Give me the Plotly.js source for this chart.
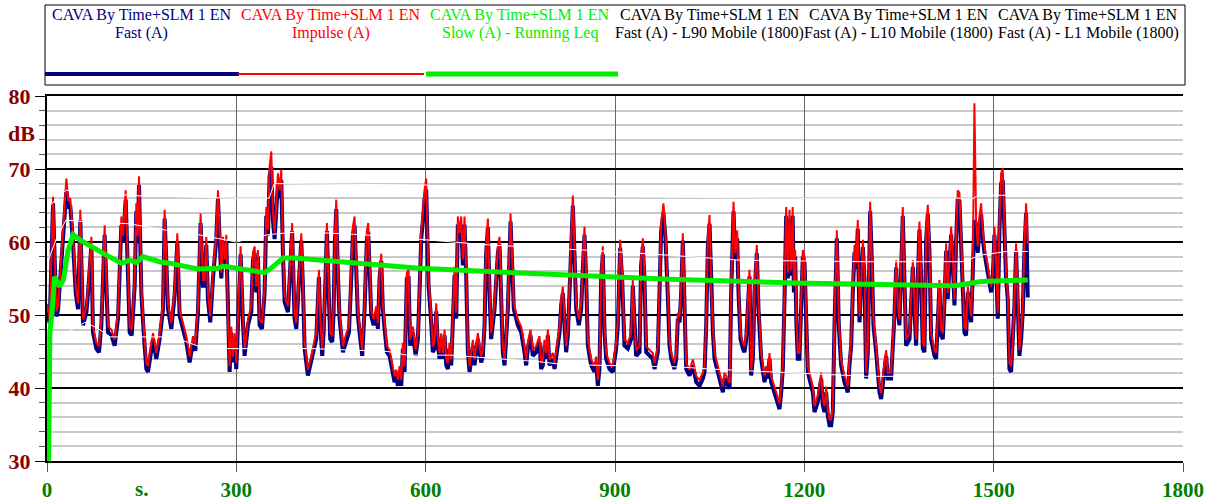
<!DOCTYPE html>
<html>
<head>
<meta charset="utf-8">
<script src="https://cdn.plot.ly/plotly-3.0.1.min.js"></script>
<style>
html,body{margin:0;padding:0;background:#fff;}
#chart{width:1213px;height:501px;}
</style>
</head>
<body>
<div id="chart"></div>
<script>
// ---- data ----
const time = [0,4.3,9.6,14.8,17.5,22.8,30.7,33.8,37,41.2,45.5,49.2,52.8,57.1,62.4,65,70.3,72.9,78.2,82.4,86.1,91.4,96.7,102,107.2,112.5,117.8,120.4,124.7,128.4,131,134.2,138.9,141.5,143.7,145.8,149.5,153.2,157.4,160,162.7,168,173.2,178.5,183.8,186.4,189,191.7,197,202.2,206.5,210.2,215.4,220.7,226,231.3,235,239.2,243.4,247.1,249.8,252.4,255,258.7,263,268.2,270.9,273.5,276.2,278.8,281.4,284.1,286.7,289.4,292,294.6,297.3,299.9,302.6,306.8,310.5,313.1,318.4,323.7,326.3,329,331.6,334.2,336.9,340.6,344.8,347.4,350.1,352.7,355.4,358,360.6,363.3,365.9,368.6,371.2,373.8,376.5,381.8,388.4,392.3,395,397.6,402.9,405.5,408.2,413.4,418.7,424,426.6,430.9,433,436.1,438.3,441.4,443.5,446.7,448.8,452,454.1,456.2,458.3,461,463.6,468.9,474.2,478.4,482.1,484.7,487.4,490,492.6,495.3,499.5,503.2,506.9,509,511.1,513.8,517.5,521.7,524.3,527,529.6,532.2,534.9,538.6,542.8,548.1,550.7,553.4,556,558.6,561.3,563.9,566.6,570.2,572.9,575.5,579.8,584,587.7,590.3,593,595.6,598.2,600.9,602.5,604.6,607.7,611.4,614.1,616.7,619.4,622,624.6,627.3,629.9,632.6,635.2,637.8,640.5,643.1,645.8,648.4,651,653.7,656.3,659,661.6,664.2,666.9,669.5,672.2,674.8,677.4,680.1,682.7,685.4,688,690.6,693.3,695.9,698.6,701.2,703.8,709.1,714.4,717,719.7,722.3,725,727.6,730.2,734.5,736.6,739.7,746.1,751.4,756.6,759.3,761.9,766.1,769.8,775.1,780.4,783,785.7,788.3,791,793.6,796.2,801.5,804.2,806.8,812.1,814.7,817.4,820,822.6,825.3,827.9,830.6,833.2,835.8,838.5,842.7,846.4,849,851.7,854.3,857,862.2,867.5,870.2,872.8,875.4,878.1,880.7,883.4,886,891.3,896.6,899.2,901.8,904.5,908.2,911.3,915,920.3,925.6,928.2,930.9,933.5,938.8,941.4,944.1,946.7,949.4,954.6,959.9,962.6,965.2,967.8,970.5,973.1,976.8,980,983.7,986.4,989.1,994.3,997,999.6,1002.3,1004.9,1007.5,1010.2,1012.8,1018.1,1023.4,1028.7,1034,1039.2,1041.9,1044.5,1047.1,1049.8,1052.4,1055.1,1057.7,1063,1068.3,1070.9,1073.5,1078.8,1081.5,1084.1,1087.8,1090.4,1093.6,1095.7,1098.9,1102.6,1105.2,1107.9,1110.5,1113.1,1115.8,1118.4,1121.1,1124.7,1127.4,1131.6,1136.9,1139.5,1142.2,1144.8,1147.5,1152.7,1158,1160.7,1163.3,1165.9,1168.6,1171.2,1173.9,1176.5,1179.1,1181.5,1183.5,1185.5,1187.5,1189.7,1192.3,1195,1197.6,1200.3,1202.9,1205.5,1210.8,1213.5,1216.1,1221.4,1226.7,1229.3,1231.9,1234.6,1237.2,1239.9,1242.5,1245.1,1247.8,1251.5,1254.6,1258.3,1263.6,1268.9,1271.5,1274.2,1276.8,1279.5,1282.1,1284.7,1287.4,1290,1292.7,1295.3,1297.9,1300.6,1304.3,1306.9,1309.5,1313.8,1319.1,1321.7,1324.3,1329.6,1332.3,1337.5,1342.8,1345.5,1348.1,1350.7,1356,1358.7,1361.3,1366.6,1371.9,1374.5,1377.1,1379.8,1382.4,1385.1,1387.7,1390.3,1393,1395.6,1398.3,1400.9,1406.2,1408.8,1411.5,1414.1,1416.7,1419.4,1422,1424.7,1427.3,1429.9,1432.6,1435.2,1437.9,1440.5,1443.1,1445.8,1448.4,1451.1,1453.7,1456.3,1459,1461.6,1464.3,1466.9,1469.5,1472.2,1474.8,1477.5,1480.1,1482.7,1485.4,1490.7,1496,1498.6,1501.2,1503.9,1506.5,1509.1,1511.8,1514.4,1517.1,1519.7,1522.3,1525,1527.6,1530.3,1532.9,1535.5,1538.2,1540.8,1543.5,1546.1,1548.7,1551.4,1554];

const impulseA = [51.5,49.5,66.2,50.5,51.2,58.5,68.7,65.6,66.0,60.8,54.0,51.6,64.4,49.4,51.2,53.8,60.7,48.4,46.2,45.7,49.4,62.3,48.4,48.0,46.6,50.3,63.5,60.8,67.1,56.2,48.4,48.0,54.8,65.3,60.8,69.0,53.9,48.4,43.4,43.0,44.8,47.5,44.8,47.5,51.6,64.4,58.5,51.6,48.9,53.5,61.2,50.7,48.9,47.1,44.3,47.1,45.9,51.2,63.9,54.8,54.8,60.7,53.0,49.8,55.8,61.2,67.1,60.8,55.8,60.7,57.6,61.0,49.4,43.0,48.4,44.3,47.5,43.4,49.4,59.4,49.8,45.2,49.4,51.2,58.5,59.4,53.9,58.9,49.4,48.9,53.9,64.8,61.7,70.3,72.4,64.0,61.2,66.2,69.4,67.1,69.9,59.4,52.6,51.2,62.6,50.3,48.9,53.0,61.2,54.8,46.2,42.5,44.3,46.6,47.5,56.2,49.4,45.2,48.4,56.2,62.6,53.0,47.5,47.1,51.2,60.8,65.8,56.2,50.3,45.7,47.5,48.4,55.8,62.1,63.5,55.8,50.7,48.4,45.2,51.6,61.6,62.6,55.8,50.7,49.4,51.2,48.9,55.8,58.4,51.6,48.9,45.7,45.2,43.0,41.6,42.5,41.1,43.0,41.1,46.2,43.0,55.8,56.2,46.6,48.4,45.2,47.5,53.9,61.6,63.9,67.1,68.7,60.8,54.8,51.2,45.7,46.2,51.6,46.6,44.8,47.5,44.8,48.0,43.9,43.4,46.2,43.9,49.4,56.6,50.3,63.5,61.2,63.5,57.6,63.5,56.2,45.7,43.0,44.8,46.6,43.9,46.2,47.5,45.7,44.3,45.2,49.4,59.4,63.2,53.9,47.5,51.6,59.4,60.7,53.9,45.7,43.9,48.4,51.6,63.9,57.6,51.6,49.4,48.4,45.7,43.9,46.2,48.0,45.2,45.7,47.1,43.4,43.9,46.6,44.8,48.0,43.9,44.8,43.4,45.2,48.4,52.1,53.9,49.4,45.7,48.0,53.9,59.4,66.4,59.4,51.6,49.4,51.6,57.1,62.1,55.8,46.6,43.9,43.0,44.3,41.1,43.4,55.8,59.4,48.4,44.8,43.4,43.0,44.8,46.2,49.4,60.3,55.8,46.6,46.2,47.5,54.8,48.4,45.2,45.7,57.6,60.5,55.8,45.7,45.2,44.8,43.4,44.8,45.7,53.9,62.6,65.3,61.2,53.4,46.6,44.8,43.4,44.8,50.3,49.8,53.9,61.2,52.1,43.4,42.5,43.9,41.6,41.1,42.1,43.0,49.4,60.3,63.7,53.9,48.4,44.8,43.0,41.1,40.2,42.1,41.1,40.7,53.9,65.5,58.5,61.6,53.9,47.5,46.2,45.7,47.5,51.6,56.2,42.5,44.8,53.9,59.6,51.6,44.8,41.6,43.0,42.1,44.8,41.6,40.2,38.9,37.9,40.2,43.4,53.0,64.8,55.8,64.4,56.2,64.8,53.9,58.9,49.4,44.8,44.8,51.6,58.9,58.0,49.4,43.0,41.1,40.2,37.5,38.9,42.1,38.4,37.5,40.2,37.0,35.7,35.7,37.5,49.4,61.6,49.4,43.9,41.6,40.2,43.9,46.6,53.9,59.6,57.1,63.0,49.8,53.9,60.3,55.8,42.1,45.7,65.5,58.5,49.4,45.7,40.2,39.3,41.6,45.2,42.1,42.1,50.7,57.5,51.6,49.4,64.8,53.9,46.6,47.5,57.5,51.6,46.6,55.8,62.8,55.8,46.2,45.7,61.2,65.1,59.4,47.5,45.2,44.8,50.3,54.8,48.0,47.5,52.6,59.8,53.0,57.6,62.1,58.0,52.1,61.2,67.1,66.7,59.9,55.8,48.4,48.0,53.9,52.1,49.8,56.7,79.0,63.0,59.4,63.5,65.3,61.6,59.4,56.7,53.9,55.8,62.1,57.6,50.3,62.6,69.4,70.1,61.6,55.8,53.0,43.4,43.0,46.6,52.1,59.8,53.0,45.2,47.5,51.2,59.8,65.3,59.8];

const fastA = [50.5,48.9,65.3,49.8,50.7,57.5,67.1,64.8,64.8,60.0,53.0,50.8,63.0,48.6,50.4,53.0,59.5,47.6,45.4,44.9,48.6,61.0,47.6,47.2,45.8,49.5,62.3,60.0,65.8,55.3,47.6,47.2,54.0,64.2,60.0,67.8,53.0,47.6,42.6,42.2,44.0,46.7,44.0,46.7,50.8,63.2,57.5,50.8,48.1,52.7,60.0,49.9,48.1,46.3,43.5,46.3,45.1,50.4,62.6,54.0,54.0,59.6,52.2,49.0,55.0,60.4,65.9,60.0,55.0,59.8,56.8,60.0,48.6,42.2,47.6,43.5,46.7,42.6,48.6,58.3,49.0,44.4,48.6,50.4,57.5,58.5,53.1,58.0,48.6,48.1,53.1,63.6,60.9,69.0,70.3,63.0,60.4,65.0,68.0,66.0,68.5,58.5,51.8,50.4,61.5,49.5,48.1,52.2,60.2,54.0,45.4,41.7,43.5,45.8,46.7,55.2,48.6,44.4,47.6,55.4,61.5,52.2,46.7,46.3,50.4,60.0,64.5,55.4,49.5,44.9,46.7,47.6,55.0,61.0,62.3,55.0,49.9,47.6,44.4,50.8,60.5,61.4,55.0,49.9,48.6,50.4,48.1,55.0,57.4,50.8,48.1,44.9,44.4,42.2,40.8,41.7,40.3,42.2,40.3,45.4,42.2,55.0,55.3,45.8,47.6,44.4,46.7,53.1,60.5,62.8,65.9,67.2,60.0,54.0,50.4,44.9,45.4,50.5,45.8,44.0,46.7,44.0,47.2,43.1,42.6,45.4,43.1,48.6,55.5,49.5,62.4,60.4,62.4,56.8,62.4,55.4,44.9,42.2,44.0,45.8,43.1,45.4,46.7,44.9,43.5,44.4,48.6,58.5,62.0,53.1,46.7,50.8,58.5,59.7,53.1,44.9,43.1,47.6,50.8,62.8,56.8,50.8,48.6,47.6,44.9,43.1,45.4,47.2,44.4,44.9,46.3,42.6,43.1,45.8,44.0,47.2,43.1,44.0,42.6,44.4,47.6,51.3,53.0,48.6,44.9,47.2,53.1,58.4,65.0,58.4,50.8,48.6,50.8,56.3,61.0,55.0,45.8,43.1,42.2,43.5,40.3,42.6,55.0,58.3,47.6,44.0,42.6,42.2,44.0,45.4,48.6,59.2,55.0,45.8,45.4,46.7,54.0,47.6,44.4,44.9,56.8,59.4,55.0,44.9,44.4,44.0,42.6,44.0,44.9,53.1,61.5,64.0,60.4,52.6,45.8,44.0,42.6,44.0,49.5,49.0,53.1,60.2,51.3,42.6,41.7,43.1,40.8,40.3,41.3,42.2,48.6,59.3,62.5,53.1,47.6,44.0,42.2,40.3,39.4,41.3,40.3,39.9,53.1,64.2,57.6,60.5,53.1,46.7,45.4,44.9,46.7,50.8,55.3,41.7,44.0,53.1,58.5,50.8,44.0,40.8,42.2,41.3,44.0,40.8,39.4,38.1,37.1,39.4,42.6,52.2,63.6,55.0,63.2,55.4,63.6,53.1,58.0,48.6,44.0,44.0,50.8,58.0,57.2,48.6,42.2,40.3,39.4,36.7,38.1,41.3,37.6,36.7,39.4,36.2,34.9,34.9,36.7,48.6,60.5,48.6,43.1,40.8,39.4,43.1,45.8,53.1,58.6,56.3,61.8,49.0,53.1,59.3,55.0,41.3,44.9,64.2,57.6,48.6,44.9,39.4,38.5,40.8,44.4,41.3,41.3,49.9,56.5,50.8,48.6,63.6,53.1,45.8,46.7,56.6,50.8,45.8,55.0,61.7,55.0,45.4,44.9,60.2,63.9,58.5,46.7,44.4,44.0,49.5,54.0,47.2,46.7,51.8,58.8,52.2,56.8,61.0,57.2,51.3,60.2,66.0,65.6,59.0,55.0,47.6,47.2,53.1,51.3,49.0,55.8,63.0,62.4,58.5,62.0,63.8,60.6,58.5,55.8,53.1,55.0,61.0,56.8,49.5,61.5,68.0,68.5,60.6,55.0,52.2,42.6,42.2,45.8,51.3,58.8,52.2,44.4,46.7,50.4,58.8,64.0,52.4];

const slowTime = [2.5,4.5,8,12,20,26,33.5,41.5,52,73,94,118,131,141.6,152,178,194,239,271,279,345,355,374,392,590,788,986,1184,1382,1438,1480,1554];
const slowLeq = [30,47.5,50.5,55.2,53.9,54.8,58.9,61.0,60.3,59.2,58.2,57.1,57.5,57.2,58.0,57.3,57.1,56.3,56.4,56.7,55.8,56.4,57.8,57.8,56.4,55.6,54.9,54.4,54.1,54.0,54.6,54.8];

const l1Time = [0,10,30,60,150,300,352,360,600,700,900,1200,1469,1475,1554];
const l1Mobile = [64.4,65.5,67.1,66.8,66.3,66.0,66.0,68.0,67.8,67.0,66.2,66.0,66.0,66.4,66.4];
const l10Time = [0,15,30,60,130,190,240,300,350,400,500,600,700,850,950,1100,1300,1450,1480,1520,1554];
const l10Mobile = [57.0,60.5,63.0,62.8,62.5,61.6,61.0,60.0,61.0,61.4,61.0,60.3,59.6,58.9,58.4,57.5,57.3,57.3,58.2,58.7,58.7];
const l90Time = [0,20,60,80,100,200,250,420,540,570,640,700,780,820,1000,1050,1150,1200,1300,1554];
const l90Mobile = [46.0,47.0,49.0,48.2,47.0,47.0,45.4,45.4,45.0,44.5,44.5,44.1,43.6,43.2,42.9,42.6,42.2,42.0,41.6,41.6];

const xTicks = [0,300,600,900,1200,1500,1800];
const xTickLabels = ['0','300','600','900','1200','1500','1800'];
const yTicks = [30,40,50,60,70,80];
const yTickLabels = ['30','40','50','60','70','80'];

const legendTitle = 'CAVA By Time+SLM 1 EN';
const legendNames = ['Fast (A)','Impulse (A)','Slow (A) - Running Leq','Fast (A) - L90 Mobile (1800)','Fast (A) - L10 Mobile (1800)','Fast (A) - L1 Mobile (1800)'];
const legendTextColors = ['#000080','#ff0000','#00ee00','#000000','#000000','#000000'];

// ---- geometry helpers (pixel -> paper) ----
const W = 1213, H = 501, ML = 47, MR = 30, MT = 96, MB = 40;
const PW = W - ML - MR, PH = H - MT - MB;
const px = x => (x - ML) / PW;
const py = y => (H - MB - y) / PH;

const SERIF = 'Liberation Serif';

const traces = [
  {x: time, y: fastA, type: 'scatter', mode: 'lines', line: {color: '#000080', width: 4}, hoverinfo: 'skip'},
  {x: time, y: impulseA, type: 'scatter', mode: 'lines', line: {color: '#ff0000', width: 2}, hoverinfo: 'skip'},
  {x: l90Time, y: l90Mobile, type: 'scatter', mode: 'lines', line: {color: '#ffffff', width: 1}, hoverinfo: 'skip'},
  {x: l10Time, y: l10Mobile, type: 'scatter', mode: 'lines', line: {color: '#ffffff', width: 1}, hoverinfo: 'skip'},
  {x: l1Time, y: l1Mobile, type: 'scatter', mode: 'lines', line: {color: '#ffffff', width: 1}, hoverinfo: 'skip'},
  {x: slowTime, y: slowLeq, type: 'scatter', mode: 'lines', line: {color: '#00ee00', width: 5}, hoverinfo: 'skip'}
];

const annotations = [];
const colW = 189.3;
for (let i = 0; i < 6; i++) {
  const cx = 47 + colW * (i + 0.5);
  annotations.push({xref: 'paper', yref: 'paper', x: px(cx), y: py(15.5), text: legendTitle, showarrow: false,
    xanchor: 'center', yanchor: 'middle', font: {family: SERIF, size: 16, color: legendTextColors[i]}});
  annotations.push({xref: 'paper', yref: 'paper', x: px(cx), y: py(33.5), text: legendNames[i], showarrow: false,
    xanchor: 'center', yanchor: 'middle', font: {family: SERIF, size: 16, color: legendTextColors[i]}});
}
annotations.push({xref: 'paper', yref: 'paper', x: px(21), y: py(133), text: 'dB', showarrow: false,
  xanchor: 'center', yanchor: 'middle', font: {family: SERIF, size: 22, color: '#8b0000', weight: 'bold'}});
annotations.push({xref: 'x', yref: 'paper', x: 150, y: py(489), text: 's.', showarrow: false,
  xanchor: 'center', yanchor: 'middle', font: {family: SERIF, size: 21, color: '#008000', weight: 'bold'}});

const shapes = [
  {type: 'rect', xref: 'paper', yref: 'paper', x0: px(45), x1: px(1185), y0: py(85), y1: py(5),
   line: {color: '#000', width: 1}, fillcolor: 'rgba(0,0,0,0)'},
  {type: 'line', xref: 'paper', yref: 'paper', x0: px(45), x1: px(239), y0: py(74), y1: py(74), line: {color: '#000080', width: 4}},
  {type: 'line', xref: 'paper', yref: 'paper', x0: px(238), x1: px(424), y0: py(74), y1: py(74), line: {color: '#ff0000', width: 2}},
  {type: 'line', xref: 'paper', yref: 'paper', x0: px(426), x1: px(618), y0: py(74), y1: py(74), line: {color: '#00ee00', width: 5}}
];

const layout = {
  width: W, height: H,
  margin: {l: ML, r: MR, t: MT, b: MB, pad: 0},
  paper_bgcolor: '#ffffff', plot_bgcolor: '#ffffff',
  showlegend: false,
  xaxis: {
    range: [0, 1800], tickmode: 'array', tickvals: xTicks, ticktext: xTickLabels,
    ticks: 'outside', ticklen: 9, tickwidth: 1, tickcolor: '#555',
    showgrid: true, gridcolor: '#666', gridwidth: 1,
    showline: true, linecolor: '#000', linewidth: 2, mirror: true,
    zeroline: false, fixedrange: true,
    tickfont: {family: SERIF, size: 21, color: '#008000', weight: 'bold'}
  },
  yaxis: {
    range: [30, 80], tickmode: 'array', tickvals: yTicks, ticktext: yTickLabels,
    ticks: 'outside', ticklen: 10, tickwidth: 1, tickcolor: '#000',
    showgrid: true, gridcolor: '#000', gridwidth: 2,
    showline: true, linecolor: '#000', linewidth: 2,
    zeroline: false, fixedrange: true,
    tickfont: {family: SERIF, size: 22, color: '#8b0000', weight: 'bold'},
    minor: {dtick: 2, tick0: 30, showgrid: true, gridcolor: '#c8c8c8', gridwidth: 2, ticks: 'outside', ticklen: 6, tickcolor: '#555'}
  },
  annotations: annotations,
  shapes: shapes
};

Plotly.newPlot('chart', traces, layout, {staticPlot: true, displayModeBar: false});
</script>
</body>
</html>
